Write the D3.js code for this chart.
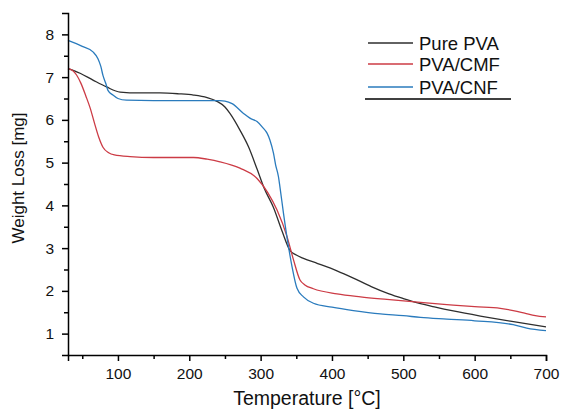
<!DOCTYPE html>
<html>
<head>
<meta charset="utf-8">
<script src="https://cdn.jsdelivr.net/npm/d3@7/dist/d3.min.js"></script>
<style>
  html, body { margin: 0; padding: 0; background: #fff; }
  svg { display: block; font-family: "Liberation Sans", Arial, sans-serif; }
</style>
</head>
<body>
<svg id="chart" width="561" height="410"></svg>
<script>
// Thermogravimetric curves: temperature (°C) vs. weight (mg)
const seriesNames = ["Pure PVA", "PVA/CMF", "PVA/CNF"];

const purePVA = [
  [30, 7.20], [47, 7.09], [65, 6.93], [84, 6.77], [103, 6.65], [130, 6.63],
  [159, 6.63], [185, 6.61], [206, 6.58], [225, 6.52], [238, 6.44], [250, 6.30],
  [257, 6.15], [271, 5.76], [283, 5.37], [295, 4.85], [305, 4.40], [318, 3.95],
  [330, 3.40], [341, 2.95], [350, 2.84], [360, 2.76], [380, 2.64], [407, 2.47],
  [430, 2.30], [455, 2.10], [480, 1.93], [500, 1.82], [520, 1.72], [545, 1.62],
  [570, 1.53], [608, 1.41], [650, 1.29], [700, 1.16]
];

const pvaCMF = [
  [30, 7.20], [36, 7.16], [42, 7.05], [48, 6.86], [55, 6.56], [61, 6.28],
  [67, 5.93], [73, 5.60], [79, 5.36], [87, 5.23], [95, 5.18], [117, 5.14],
  [150, 5.12], [206, 5.12], [225, 5.08], [243, 5.02], [271, 4.87], [295, 4.63],
  [310, 4.30], [323, 3.89], [337, 3.27], [346, 2.73], [355, 2.26], [362, 2.14],
  [374, 2.05], [407, 1.93], [440, 1.86], [477, 1.80], [524, 1.73], [561, 1.68],
  [600, 1.63], [636, 1.59], [654, 1.54], [670, 1.48], [685, 1.42], [700, 1.39]
];

const pvaCNF = [
  [30, 7.86], [50, 7.72], [65, 7.59], [72, 7.43], [76, 7.25], [79, 7.04],
  [83, 6.85], [86, 6.69], [93, 6.58], [100, 6.50], [112, 6.46], [150, 6.45],
  [200, 6.45], [243, 6.45], [250, 6.44], [260, 6.38], [276, 6.15], [285, 6.04],
  [295, 5.96], [303, 5.82], [309, 5.69], [313, 5.53], [318, 5.22], [321, 4.95],
  [325, 4.67], [327, 4.44], [332, 3.82], [339, 3.04], [344, 2.57], [351, 2.06],
  [360, 1.86], [374, 1.71], [400, 1.62], [430, 1.54], [468, 1.46], [500, 1.42],
  [524, 1.38], [561, 1.34], [600, 1.30], [654, 1.21], [673, 1.13], [700, 1.07]
];

const xMajorTicks = [100, 200, 300, 400, 500, 600, 700];
const xMinorTicks = [50, 150, 250, 350, 450, 550, 650];
const yMajorTicks = [1, 2, 3, 4, 5, 6, 7, 8];
const yMinorTicks = [1.5, 2.5, 3.5, 4.5, 5.5, 6.5, 7.5];

const colors = ["#2e2e2e", "#cc3b45", "#2a7bbd"];
const allSeries = [purePVA, pvaCMF, pvaCNF];

const svg = d3.select("#chart");
const W = 561, H = 410;
const margin = { top: 13, right: 15, bottom: 55, left: 68 };

const x = d3.scaleLinear().domain([30, 700]).range([margin.left, W - margin.right]);
const y = d3.scaleLinear().domain([0.5, 8.5]).range([H - margin.bottom, margin.top]);

// Curves
const line = d3.line()
  .x(d => x(d[0]))
  .y(d => y(d[1]))
  .curve(d3.curveMonotoneX);

svg.append("g").selectAll("path")
  .data(allSeries)
  .join("path")
  .attr("fill", "none")
  .attr("stroke", (d, i) => colors[i])
  .attr("stroke-width", 1.3)
  .attr("d", line);

// Axes
svg.append("g")
  .attr("transform", `translate(0,${H - margin.bottom})`)
  .call(d3.axisBottom(x).tickValues(xMajorTicks).tickSize(6).tickPadding(7).tickFormat(d3.format("d")));
svg.append("g")
  .attr("transform", `translate(0,${H - margin.bottom})`)
  .call(d3.axisBottom(x).tickValues(xMinorTicks).tickSize(4).tickFormat(""))
  .call(g => g.select(".domain").remove());

svg.append("g")
  .attr("transform", `translate(${margin.left},0)`)
  .call(d3.axisLeft(y).tickValues(yMajorTicks).tickSize(6).tickPadding(8).tickFormat(d3.format("d")));
svg.append("g")
  .attr("transform", `translate(${margin.left},0)`)
  .call(d3.axisLeft(y).tickValues(yMinorTicks).tickSize(4).tickFormat(""))
  .call(g => g.select(".domain").remove());

svg.selectAll(".domain").attr("stroke", "#000").attr("stroke-width", 1.5);
svg.selectAll(".tick line").attr("stroke", "#000").attr("stroke-width", 1.5);
svg.selectAll(".tick text")
  .attr("font-family", "'Liberation Sans', Arial, sans-serif")
  .attr("font-size", 15.5)
  .attr("fill", "#111");

// Axis titles
svg.append("text")
  .attr("x", 307)
  .attr("y", 405)
  .attr("text-anchor", "middle")
  .attr("font-size", 19.5)
  .attr("fill", "#111")
  .text("Temperature [°C]");

svg.append("text")
  .attr("transform", "translate(24,178) rotate(-90)")
  .attr("text-anchor", "middle")
  .attr("font-size", 17)
  .attr("fill", "#111")
  .text("Weight Loss [mg]");

// Legend
const legendY = [43, 64, 87];
const legend = svg.append("g");
seriesNames.forEach((name, i) => {
  legend.append("line")
    .attr("x1", 368).attr("x2", 413)
    .attr("y1", legendY[i]).attr("y2", legendY[i])
    .attr("stroke", colors[i])
    .attr("stroke-width", 1.3);
  legend.append("text")
    .attr("x", 419)
    .attr("y", legendY[i] + 6.5)
    .attr("font-size", 18.5)
    .attr("fill", "#111")
    .text(name);
});
legend.append("line")
  .attr("x1", 365).attr("x2", 511)
  .attr("y1", 99).attr("y2", 99)
  .attr("stroke", "#000")
  .attr("stroke-width", 1.5);
</script>
</body>
</html>
